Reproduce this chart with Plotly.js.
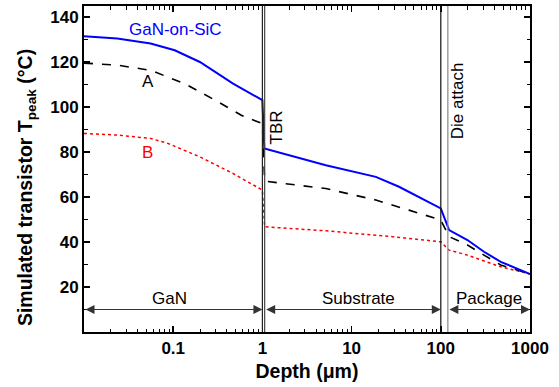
<!DOCTYPE html>
<html>
<head>
<meta charset="utf-8">
<script src="https://cdn.plot.ly/plotly-3.0.1.min.js"></script>
<style>html,body{margin:0;padding:0;background:#fff;}#chart{width:559px;height:387px;}</style>
</head>
<body>
<div id="chart"></div>
<script>
// Depth (µm) and simulated peak temperature (°C)
const xGaNonSiC = [0.01, 0.0236, 0.0558, 0.104, 0.199, 0.469, 1.0, 1.05, 5.14, 18.7, 34, 100, 124, 199, 305, 470, 1000];
const yGaNonSiC = [131.6, 130.5, 128.3, 125.3, 120.1, 110.5, 103.1, 81.6, 74.2, 69.0, 64.6, 55.0, 45.3, 40.9, 35.7, 31.2, 25.8];

const xA = [0.01, 0.0236, 0.0558, 0.134, 0.318, 0.58, 1.0, 1.06, 5.14, 18.7, 44, 100, 124, 199, 305, 470, 1000];
const yA = [119.6, 118.7, 116.4, 110.5, 102.4, 96.4, 92.7, 67.1, 63.8, 58.7, 54.2, 49.8, 42.4, 38.7, 34.2, 29.8, 25.8];

const xB = [0.01, 0.0236, 0.0558, 0.087, 0.199, 0.469, 1.0, 1.06, 5.14, 28.7, 100, 124, 199, 470, 1000];
const yB = [88.3, 87.6, 86.1, 83.9, 77.9, 70.5, 63.1, 46.8, 45.0, 42.4, 40.1, 36.4, 34.2, 29.0, 25.8];

// Layer boundaries (µm)
const layerNames = ["GaN", "Substrate", "Package"];
const layerStart = [0.01, 1.06, 120];
const layerEnd = [1.0, 100, 1000];
const layerLabelX = [0.09, 12, 350];
const interfaceLines = [1.0, 1.06, 100, 120];
const interfaceColors = ["#222", "#444", "#111", "#888"];

const xTicks = [0.1, 1, 10, 100, 1000];
const xTickText = ["0.1", "1", "10", "100", "1000"];
const yTicks = [20, 40, 60, 80, 100, 120, 140];

const minorX = [];
for (let e = -2; e < 3; e++) for (let m = 2; m <= 9; m++) minorX.push(m * Math.pow(10, e));

const traces = [
  {x: xB, y: yB, mode: 'lines', line: {color: '#ff0000', width: 1.5, dash: 'dot'}, name: 'B'},
  {x: xA, y: yA, mode: 'lines', line: {color: '#000000', width: 1.6, dash: 'dash'}, name: 'A'},
  {x: xGaNonSiC, y: yGaNonSiC, mode: 'lines', line: {color: '#0000ff', width: 2}, name: 'GaN-on-SiC'}
];

const shapes = interfaceLines.map((v, i) => ({
  type: 'line', xref: 'x', yref: 'paper', x0: v, x1: v, y0: 0, y1: 1,
  line: {color: interfaceColors[i], width: 1.2}
}));

const FAM = 'Liberation Sans';
const txtFont = {family: FAM, size: 17, color: '#000'};
const titleFont = {family: FAM, size: 19.5, color: '#000', weight: 700};
const annotations = [];
layerNames.forEach((n, i) => {
  annotations.push({
    x: Math.log10(layerEnd[i]), y: 10, ax: Math.log10(layerStart[i]), ay: 10,
    axref: 'x', ayref: 'y', xref: 'x', yref: 'y', text: '', showarrow: true,
    arrowhead: 2, arrowside: 'end+start', arrowsize: 1.5, arrowwidth: 1.2, arrowcolor: '#333'
  });
  annotations.push({
    x: Math.log10(layerLabelX[i]), y: 15, xref: 'x', yref: 'y', text: n, showarrow: false,
    font: txtFont
  });
});
annotations.push({x: Math.log10(0.105), y: 134.7, xref: 'x', yref: 'y', text: 'GaN-on-SiC', showarrow: false, font: Object.assign({}, txtFont, {color: '#0000ff'})});
annotations.push({x: Math.log10(0.052), y: 111.3, xref: 'x', yref: 'y', text: 'A', showarrow: false, font: txtFont});
annotations.push({x: Math.log10(0.052), y: 80, xref: 'x', yref: 'y', text: 'B', showarrow: false, font: Object.assign({}, txtFont, {color: '#ff0000'})});
annotations.push({x: Math.log10(1.42), y: 91, xref: 'x', yref: 'y', text: 'TBR', textangle: -90, showarrow: false, font: txtFont});
annotations.push({x: Math.log10(155), y: 103, xref: 'x', yref: 'y', text: 'Die attach', textangle: -90, showarrow: false, font: txtFont});
// y-axis title (placed as annotation to match the reference position)
annotations.push({x: 0, xref: 'paper', xanchor: 'center', xshift: -58, y: 64, yref: 'y', yanchor: 'middle',
  text: 'Simulated transistor T<sub>peak</sub> (°C)', textangle: -90, showarrow: false, font: titleFont});

const tickFont = {family: FAM, size: 17, color: '#000', weight: 700};

const layout = {
  width: 559, height: 387,
  margin: {l: 84, r: 29, t: 6, b: 55},
  paper_bgcolor: '#fff', plot_bgcolor: '#fff',
  showlegend: false,
  font: {family: FAM},
  xaxis: {
    type: 'log', range: [-2, 3], tickmode: 'array', tickvals: xTicks, ticktext: xTickText,
    ticks: 'inside', ticklen: 6, tickwidth: 1.5, tickcolor: '#000',
    showline: true, linecolor: '#000', linewidth: 2, mirror: 'allticks',
    showgrid: false, zeroline: false, tickfont: tickFont,
    minor: {tickmode: 'array', tickvals: minorX, ticks: 'inside', ticklen: 3.5, tickwidth: 1, tickcolor: '#000', showgrid: false},
    title: {text: 'Depth (μm)', font: titleFont, standoff: 7}
  },
  yaxis: {
    range: [0, 145], tickmode: 'array', tickvals: yTicks,
    ticks: 'inside', ticklen: 6, tickwidth: 1.5, tickcolor: '#000',
    showline: true, linecolor: '#000', linewidth: 2, mirror: 'allticks',
    showgrid: false, zeroline: false, tickfont: tickFont,
    minor: {dtick: 10, ticks: 'inside', ticklen: 3.5, tickwidth: 1, tickcolor: '#000', showgrid: false}
  },
  shapes: shapes,
  annotations: annotations
};

Plotly.newPlot('chart', traces, layout, {staticPlot: true, displayModeBar: false});
</script>
</body>
</html>
